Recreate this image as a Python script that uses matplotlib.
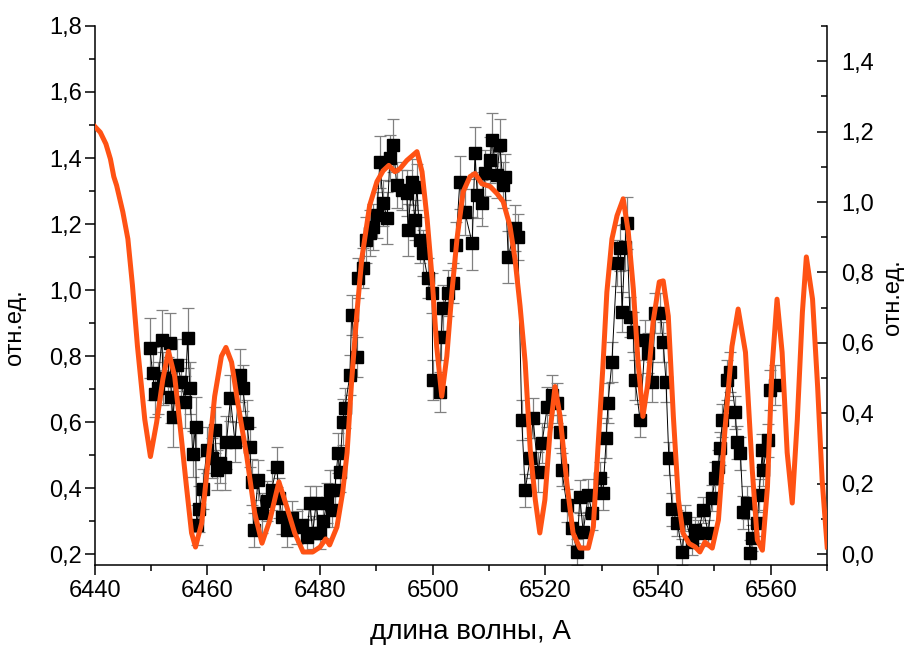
import numpy as np
import matplotlib
matplotlib.use("Agg")
import matplotlib.pyplot as plt
from matplotlib.ticker import MultipleLocator, FuncFormatter

plt.rcParams['font.family'] = ['Liberation Sans', 'DejaVu Sans']

# measured spectrum: wavelength (A), relative intensity, error
wl = [
    6449.8, 6450.3, 6450.7, 6451.2, 6451.9, 6452.2, 6453.0, 6453.3, 6453.6, 6453.9,
    6454.7, 6455.4, 6456.0, 6456.5, 6456.9, 6457.4, 6457.9, 6458.1, 6458.6, 6459.2,
    6459.9, 6460.8, 6461.3, 6461.8, 6462.3, 6463.1, 6463.4, 6464.1, 6464.9, 6465.8,
    6466.3, 6467.0, 6467.5, 6467.9, 6468.2, 6469.0, 6469.7, 6470.5, 6471.4, 6472.3,
    6472.8, 6473.2, 6474.1, 6475.0, 6475.9, 6476.8, 6477.6, 6478.2, 6478.7, 6479.3,
    6480.0, 6480.6, 6481.2, 6481.8, 6482.1, 6482.6, 6483.2, 6483.5, 6484.0, 6484.4,
    6485.3, 6485.6, 6486.5, 6486.7, 6487.6, 6488.1, 6488.8, 6489.4, 6490.1, 6490.6,
    6491.2, 6491.9, 6492.4, 6493.0, 6493.6, 6494.5, 6495.4, 6495.6, 6496.3, 6496.8,
    6497.2, 6497.7, 6498.3, 6499.1, 6499.9, 6500.0, 6501.3, 6501.5, 6501.8, 6502.7,
    6503.6, 6504.1, 6504.8, 6505.7, 6507.0, 6507.5, 6507.9, 6508.7, 6509.3, 6510.2,
    6510.5, 6511.4, 6511.9, 6512.5, 6512.8, 6513.4, 6514.6, 6515.1, 6515.8, 6516.4,
    6517.3, 6517.8, 6518.7, 6519.4, 6520.3, 6521.2, 6522.1, 6522.6, 6522.9, 6523.8,
    6524.7, 6525.6, 6526.1, 6526.7, 6527.6, 6528.3, 6529.7, 6530.2, 6530.8, 6531.1,
    6531.8, 6532.7, 6533.3, 6533.6, 6534.1, 6534.4, 6535.0, 6535.6, 6535.9, 6536.8,
    6537.7, 6538.2, 6538.9, 6539.5, 6540.4, 6540.9, 6541.4, 6541.9, 6542.5, 6543.4,
    6544.3, 6544.8, 6546.0, 6546.6, 6547.1, 6548.0, 6548.9, 6549.6, 6550.1, 6550.7,
    6551.0, 6551.4, 6552.3, 6552.8, 6553.7, 6554.0, 6554.6, 6555.1, 6555.8, 6556.3,
    6556.7, 6557.6, 6557.9, 6558.5, 6558.6, 6559.5, 6559.9, 6560.8,
]
rel = [
    0.824, 0.748, 0.685, 0.703, 0.848, 0.733, 0.727, 0.840, 0.676, 0.615,
    0.773, 0.721, 0.661, 0.855, 0.703, 0.503, 0.585, 0.288, 0.336, 0.397,
    0.515, 0.491, 0.576, 0.455, 0.476, 0.464, 0.539, 0.673, 0.539, 0.742,
    0.703, 0.597, 0.524, 0.418, 0.273, 0.424, 0.324, 0.360, 0.394, 0.464,
    0.370, 0.312, 0.273, 0.310, 0.282, 0.288, 0.252, 0.355, 0.264, 0.355,
    0.264, 0.300, 0.355, 0.394, 0.333, 0.394, 0.506, 0.448, 0.600, 0.642,
    0.742, 0.924, 0.797, 1.036, 1.067, 1.152, 1.173, 1.191, 1.227, 1.388,
    1.264, 1.218, 1.400, 1.439, 1.318, 1.303, 1.294, 1.182, 1.327, 1.212,
    1.312, 1.152, 1.112, 1.036, 0.991, 0.727, 0.691, 0.858, 0.945, 0.991,
    1.021, 1.136, 1.327, 1.236, 1.142, 1.415, 1.288, 1.264, 1.355, 1.394,
    1.455, 1.348, 1.439, 1.318, 1.342, 1.100, 1.188, 1.161, 0.606, 0.394,
    0.491, 0.612, 0.448, 0.536, 0.645, 0.682, 0.658, 0.570, 0.455, 0.348,
    0.279, 0.206, 0.373, 0.267, 0.379, 0.324, 0.430, 0.385, 0.552, 0.658,
    0.782, 1.082, 1.127, 0.933, 1.130, 1.203, 0.918, 0.873, 0.727, 0.606,
    0.848, 0.809, 0.721, 0.930, 0.930, 0.842, 0.721, 0.491, 0.336, 0.295,
    0.206, 0.309, 0.236, 0.273, 0.264, 0.333, 0.264, 0.370, 0.430, 0.464,
    0.521, 0.606, 0.727, 0.752, 0.630, 0.539, 0.506, 0.327, 0.355, 0.203,
    0.248, 0.294, 0.379, 0.515, 0.455, 0.545, 0.697, 0.712,
]
err = [
    0.09, 0.08, 0.07, 0.08, 0.09, 0.08, 0.07, 0.09, 0.08, 0.09,
    0.08, 0.07, 0.08, 0.09, 0.08, 0.07, 0.09, 0.06, 0.07, 0.06,
    0.07, 0.06, 0.07, 0.06, 0.06, 0.07, 0.08, 0.07, 0.06, 0.08,
    0.07, 0.07, 0.06, 0.07, 0.05, 0.06, 0.06, 0.06, 0.06, 0.06,
    0.06, 0.05, 0.05, 0.05, 0.05, 0.05, 0.05, 0.05, 0.05, 0.05,
    0.05, 0.05, 0.06, 0.06, 0.05, 0.06, 0.06, 0.06, 0.07, 0.06,
    0.06, 0.06, 0.06, 0.06, 0.06, 0.07, 0.07, 0.07, 0.07, 0.08,
    0.07, 0.08, 0.07, 0.08, 0.07, 0.06, 0.07, 0.08, 0.07, 0.06,
    0.07, 0.07, 0.07, 0.06, 0.06, 0.06, 0.06, 0.07, 0.07, 0.07,
    0.06, 0.07, 0.08, 0.07, 0.08, 0.08, 0.07, 0.07, 0.07, 0.07,
    0.08, 0.07, 0.08, 0.07, 0.07, 0.08, 0.07, 0.07, 0.06, 0.05,
    0.06, 0.06, 0.06, 0.06, 0.06, 0.06, 0.06, 0.05, 0.05, 0.05,
    0.05, 0.04, 0.05, 0.05, 0.05, 0.05, 0.05, 0.05, 0.06, 0.06,
    0.06, 0.07, 0.07, 0.06, 0.07, 0.08, 0.06, 0.06, 0.06, 0.05,
    0.06, 0.06, 0.06, 0.06, 0.06, 0.06, 0.06, 0.05, 0.05, 0.04,
    0.04, 0.04, 0.04, 0.04, 0.04, 0.04, 0.04, 0.04, 0.05, 0.05,
    0.05, 0.05, 0.06, 0.06, 0.05, 0.05, 0.05, 0.05, 0.05, 0.04,
    0.04, 0.04, 0.05, 0.05, 0.05, 0.05, 0.06, 0.06,
]

# calculated profile (right axis)
calc_wl = [
    6440.0, 6441.0, 6442.0, 6442.8, 6443.4, 6443.9, 6445.0, 6445.9, 6446.7, 6447.6,
    6448.9, 6449.9, 6451.0, 6452.1, 6453.1, 6454.2, 6455.1, 6456.3, 6457.2, 6457.9,
    6459.0, 6460.1, 6461.3, 6462.5, 6463.3, 6464.3, 6465.4, 6467.0, 6468.4, 6469.7,
    6471.1, 6472.7, 6474.1, 6475.5, 6477.0, 6478.7, 6480.0, 6481.0, 6481.7, 6483.0,
    6484.0, 6484.8, 6485.6, 6486.5, 6487.4, 6488.8, 6490.1, 6491.2, 6492.2, 6493.3,
    6494.2, 6495.4, 6497.2, 6498.1, 6499.0, 6499.9, 6500.7, 6501.6, 6502.5, 6503.4,
    6504.3, 6505.4, 6506.6, 6507.5, 6508.7, 6510.2, 6511.4, 6512.5, 6513.7, 6514.6,
    6515.5, 6516.4, 6517.3, 6518.2, 6519.0, 6519.9, 6520.8, 6521.7, 6522.6, 6523.8,
    6524.9, 6526.1, 6527.6, 6528.5, 6529.3, 6530.2, 6530.9, 6531.8, 6532.7, 6533.8,
    6534.7, 6535.6, 6536.4, 6537.3, 6538.2, 6539.1, 6540.2, 6540.9, 6541.8, 6542.7,
    6543.6, 6544.4, 6545.5, 6546.6, 6547.4, 6548.3, 6549.6, 6550.7, 6551.9, 6553.1,
    6554.2, 6555.5, 6556.7, 6557.6, 6558.5, 6559.4, 6560.2, 6561.1, 6562.0, 6562.9,
    6563.8, 6564.7, 6565.6, 6566.3, 6567.4, 6568.3, 6569.1, 6570.0,
]
calc = [
    1.215, 1.198, 1.165, 1.122, 1.072, 1.047, 0.972, 0.895, 0.765, 0.590,
    0.382, 0.277, 0.374, 0.496, 0.576, 0.505, 0.374, 0.191, 0.060, 0.020,
    0.088, 0.260, 0.448, 0.562, 0.587, 0.545, 0.430, 0.277, 0.117, 0.031,
    0.097, 0.205, 0.134, 0.060, 0.006, 0.006, 0.020, 0.043, 0.026, 0.077,
    0.174, 0.288, 0.490, 0.677, 0.838, 0.990, 1.058, 1.089, 1.104, 1.086,
    1.095, 1.118, 1.143, 1.086, 0.952, 0.781, 0.590, 0.448, 0.562, 0.744,
    0.895, 1.029, 1.072, 1.081, 1.052, 1.044, 1.024, 1.001, 0.932, 0.838,
    0.704, 0.545, 0.297, 0.154, 0.060, 0.154, 0.345, 0.476, 0.391, 0.202,
    0.060, 0.017, 0.017, 0.077, 0.297, 0.533, 0.744, 0.895, 0.961, 1.009,
    0.915, 0.753, 0.553, 0.391, 0.488, 0.659, 0.773, 0.776, 0.676, 0.391,
    0.154, 0.060, 0.030, 0.020, 0.006, 0.034, 0.017, 0.097, 0.362, 0.590,
    0.696, 0.573, 0.240, 0.040, 0.011, 0.191, 0.525, 0.724, 0.573, 0.288,
    0.145, 0.382, 0.687, 0.844, 0.724, 0.476, 0.211, 0.020,
]

comma = lambda fmt: FuncFormatter(lambda v, pos: fmt.format(v).replace('.', ','))

fig = plt.figure(figsize=(9.1, 6.46), dpi=100)
ax = fig.add_axes([0.104, 0.1254, 0.805, 0.8344])

ax.errorbar(wl, rel, yerr=err, fmt='none', ecolor='#808080', elinewidth=0.9,
            capsize=4.5, capthick=0.9, zorder=1)
ax.plot(wl, rel, color='black', lw=0.7, zorder=2)
ax.plot(wl, rel, 's', color='black', ms=8, zorder=3)

ax.set_xlim(6440, 6570)
ax.set_ylim(0.167, 1.8)
ax.xaxis.set_major_locator(MultipleLocator(20))
ax.xaxis.set_minor_locator(MultipleLocator(10))
ax.yaxis.set_major_locator(MultipleLocator(0.2))
ax.yaxis.set_minor_locator(MultipleLocator(0.1))
ax.yaxis.set_major_formatter(comma('{:.1f}'))
ax.tick_params(which='major', direction='out', length=7, width=1.1, labelsize=17)
ax.tick_params(axis='y', which='major', pad=2)
ax.tick_params(which='minor', direction='out', length=4, width=1.1)
for s in ('top', 'right'):
    ax.spines[s].set_visible(False)
for s in ('left', 'bottom'):
    ax.spines[s].set_linewidth(1.1)

ax2 = ax.twinx()
ax2.plot(calc_wl, calc, color='#ff5214', lw=3.6, solid_joinstyle='round', zorder=4)
ax2.set_ylim(-0.031, 1.5)
ax2.yaxis.set_major_locator(MultipleLocator(0.2))
ax2.yaxis.set_minor_locator(MultipleLocator(0.1))
ax2.yaxis.set_major_formatter(comma('{:.1f}'))
ax2.tick_params(which='major', direction='in', length=7, width=1.1, labelsize=17, pad=10)
ax2.tick_params(which='minor', direction='in', length=4, width=1.1)
for s in ('top', 'left', 'bottom'):
    ax2.spines[s].set_visible(False)
ax2.spines['right'].set_linewidth(1.1)

# axis titles placed in figure pixels
W, H = 910, 646
fig.text(470 / W, 1 - 632 / H, 'длина волны, А', fontsize=20, ha='center', va='center')
fig.text(15 / W, 1 - 327 / H, 'отн.ед.', fontsize=17, rotation=90, ha='center', va='center')
fig.text(893 / W, 1 - 297 / H, 'отн.ед.', fontsize=17, rotation=90, ha='center', va='center')

fig.savefig('out.png', dpi=100)
